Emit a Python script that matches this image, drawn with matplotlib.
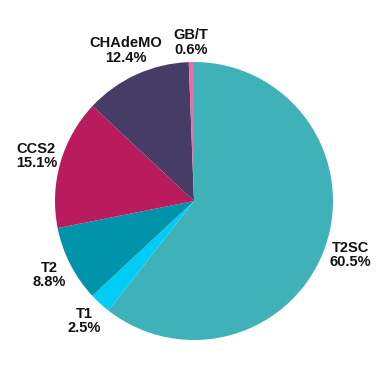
import numpy as np
import matplotlib
matplotlib.use("Agg")
import matplotlib.pyplot as plt

labels = ["T2SC", "T1", "T2", "CCS2", "CHAdeMO", "GB/T"]
shares = [60.5, 2.5, 8.8, 15.1, 12.4, 0.6]
colors = ["#3FB2B9", "#00CDF6", "#0093AA", "#B91C5C", "#463D67", "#E46FA8"]

plt.rcParams['font.family'] = ['Liberation Sans', 'DejaVu Sans']

fig = plt.figure(figsize=(3.85, 3.85), dpi=100)
ax = fig.add_axes([0, 0, 1, 1])
wedges, _ = ax.pie(shares, colors=colors, startangle=90, counterclock=False,
                   wedgeprops=dict(linewidth=0))

# label distance per slice (tiny slice sits a little closer)
dists = [1.19, 1.17, 1.17, 1.18, 1.19, 1.14]
for w, lab, val, d in zip(wedges, labels, shares, dists):
    ang = np.deg2rad((w.theta1 + w.theta2) / 2)
    ax.text(d * np.cos(ang), d * np.sin(ang), "{}\n{:.1f}%".format(lab, val),
            ha="center", va="center", fontsize=10.5, fontweight="bold",
            linespacing=1.05, color="#111111")

ax.set_xlim(-194 / 139, 191 / 139)
ax.set_ylim(-184 / 139, 201 / 139)
ax.set_aspect("equal")
ax.axis("off")
plt.savefig("out.png", dpi=100)
